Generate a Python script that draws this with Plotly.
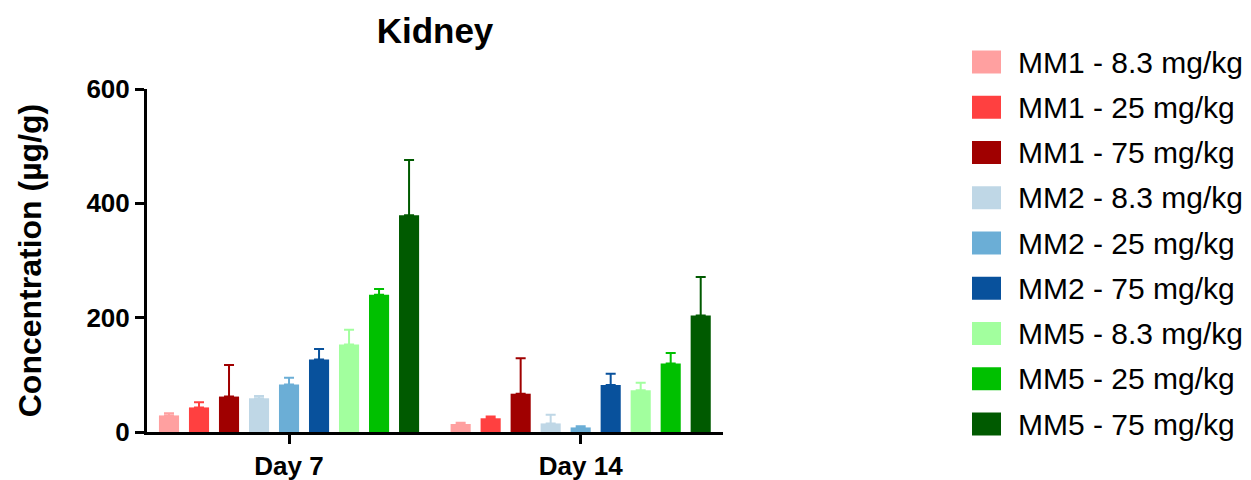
import plotly.graph_objects as go

# Kidney concentration (µg/g), mean and upper error (SD) per group
days = ["Day 7", "Day 14"]
groups = [
    "MM1 - 8.3 mg/kg", "MM1 - 25 mg/kg", "MM1 - 75 mg/kg",
    "MM2 - 8.3 mg/kg", "MM2 - 25 mg/kg", "MM2 - 75 mg/kg",
    "MM5 - 8.3 mg/kg", "MM5 - 25 mg/kg", "MM5 - 75 mg/kg",
]
day7_mean = [29, 43, 62, 59, 83, 127, 153, 240, 379]
day7_err = [4, 9, 55, 4, 12, 18, 26, 10, 97]
day14_mean = [14, 24, 67, 15, 8, 82, 73, 120, 204]
day14_err = [2, 3, 62, 15, 2, 20, 13, 18, 67]
colors = [
    "#FFA0A0", "#FF4040", "#A00000",
    "#BFD7E6", "#6BAED6", "#08519C",
    "#A2FF9E", "#00C000", "#005A00",
]

FONT = "Liberation Sans, Arial, sans-serif"

# plot area in pixels
W, H = 1251, 480
L, R, T, B = 147, 528, 89, 48
PW, PH = W - L - R, H - T - B


def px_x(px):
    return (px - L) / PW


def px_y(py):
    return (H - B - py) / PH


fig = go.Figure()
for i, name in enumerate(groups):
    fig.add_trace(go.Bar(
        x=days,
        y=[day7_mean[i], day14_mean[i]],
        name=name,
        marker=dict(color=colors[i], line=dict(width=0)),
        error_y=dict(
            type="data", symmetric=False,
            array=[day7_err[i], day14_err[i]],
            arrayminus=[0, 0],
            color=colors[i], thickness=2, width=5,
        ),
        showlegend=False,
    ))

# legend drawn as large swatches with labels
shapes = []
annotations = []
first_c, step = 62, 45.25
for i, name in enumerate(groups):
    cy = first_c + i * step
    shapes.append(dict(
        type="rect", xref="paper", yref="paper",
        x0=px_x(972), x1=px_x(1001),
        y0=px_y(cy + 11.5), y1=px_y(cy - 11.5),
        fillcolor=colors[i], line=dict(width=0),
    ))
    annotations.append(dict(
        text=name, xref="paper", yref="paper",
        x=px_x(1016), y=px_y(cy), xanchor="left", yanchor="middle",
        showarrow=False, font=dict(family=FONT, size=30, color="#000"),
    ))

fig.update_layout(
    width=W, height=H,
    margin=dict(l=L, r=R, t=T, b=B, pad=0),
    paper_bgcolor="white", plot_bgcolor="white",
    barmode="group", bargap=0.074, bargroupgap=0.33,
    title=dict(
        text="<b>Kidney</b>", xref="container", x=435 / W, xanchor="center",
        yref="container", y=1 - 31 / H, yanchor="middle",
        font=dict(family=FONT, size=35, color="#000"),
    ),
    xaxis=dict(
        range=[-0.487, 1.488], automargin=False,
        showline=True, linecolor="#000", linewidth=3,
        ticks="outside", ticklen=9, tickwidth=3, tickcolor="#000",
        tickfont=dict(family=FONT, size=26, color="#000", weight="bold"),
        showgrid=False, zeroline=False,
    ),
    yaxis=dict(
        range=[0, 600], tickvals=[0, 200, 400, 600], automargin=False,
        showline=True, linecolor="#000", linewidth=3,
        ticks="outside", ticklen=9, tickwidth=3, tickcolor="#000",
        tickfont=dict(family=FONT, size=26, color="#000", weight="bold"),
        title=dict(text="<b>Concentration (µg/g)</b>", standoff=36,
                   font=dict(family=FONT, size=32, color="#000")),
        showgrid=False, zeroline=False,
    ),
    shapes=shapes,
    annotations=annotations,
)

fig.write_html("out.html")
